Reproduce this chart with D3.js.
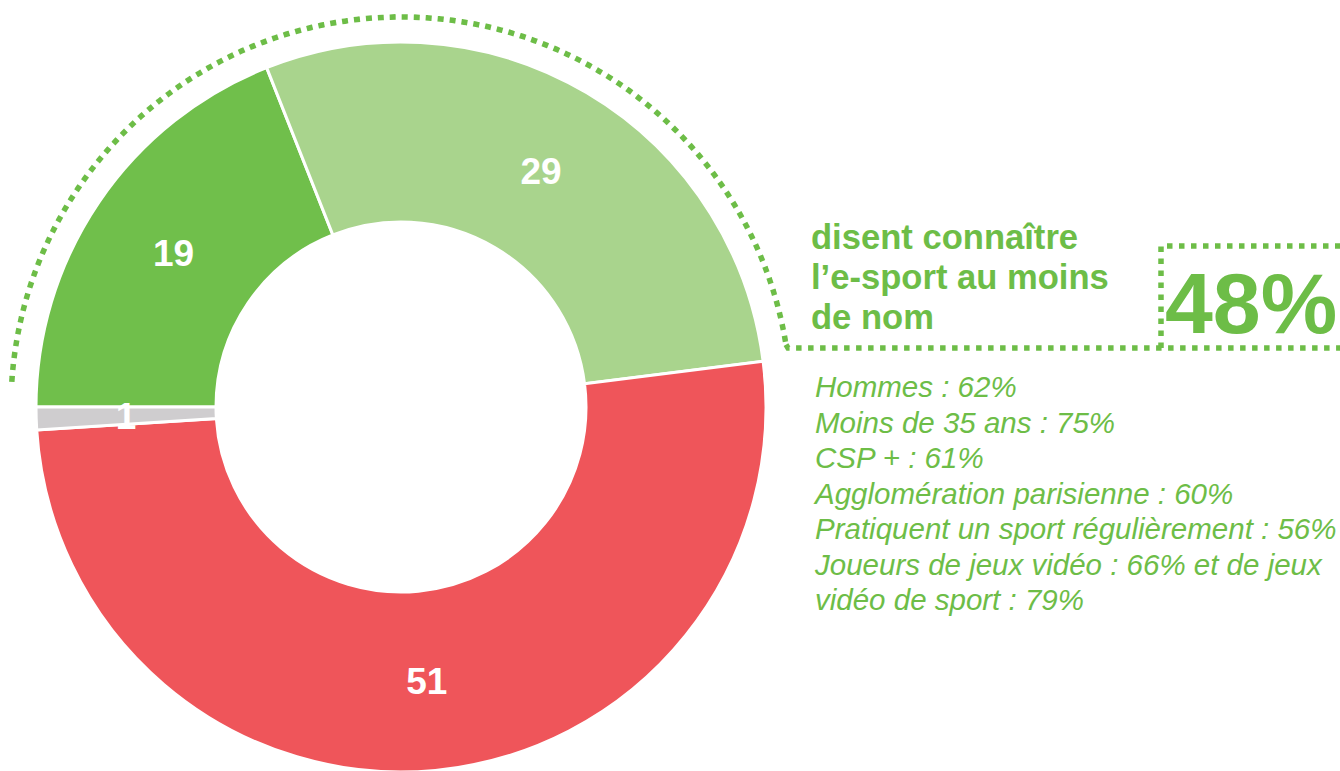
<!DOCTYPE html>
<html>
<head>
<meta charset="utf-8">
<script src="https://cdn.jsdelivr.net/npm/d3@7"></script>
<style>
  body { margin: 0; background: #fff; overflow: hidden; }
  svg text { font-family: Arial, "Liberation Sans", Helvetica, sans-serif; }
</style>
</head>
<body>
<svg id="chart" width="1340" height="771"></svg>
<script>
// donut slices, clockwise from 9 o'clock
var categories = ["Oui, et je sais de quoi il s'agit", "Oui, seulement de nom", "Non", "NSP"];
var values = [19, 29, 51, 1];
var colors = ["#70bf4b", "#a9d48d", "#ef555a", "#cfcdcf"];

var headline = ["disent connaître", "l\u2019e-sport au moins", "de nom"];
var bigValue = "48%";
var details = [
  "Hommes : 62%",
  "Moins de 35 ans : 75%",
  "CSP + : 61%",
  "Agglomération parisienne : 60%",
  "Pratiquent un sport régulièrement : 56%",
  "Joueurs de jeux vidéo : 66% et de jeux",
  "vidéo de sport : 79%"
];

var green = "#6dbd47";
var cx = 401, cy = 407;
var outerR = 365, innerR = 185;

var svg = d3.select("#chart");
var g = svg.append("g").attr("transform", "translate(" + cx + "," + cy + ")");

var pie = d3.pie().sort(null).value(function(d) { return d; })
    .startAngle(-Math.PI / 2).endAngle(3 * Math.PI / 2);
var arc = d3.arc().innerRadius(innerR).outerRadius(outerR);
var arcs = pie(values);

g.selectAll("path.slice")
    .data(arcs)
    .enter()
    .append("path")
        .attr("class", "slice")
        .attr("d", arc)
        .attr("fill", function(d, i) { return colors[i]; })
        .attr("stroke", "#fff")
        .attr("stroke-width", 3);

g.selectAll("text.lbl")
    .data(arcs)
    .enter()
    .append("text")
        .attr("class", "lbl")
        .attr("x", function(d) { return arc.centroid(d)[0]; })
        .attr("y", function(d) { return arc.centroid(d)[1]; })
        .attr("dy", "0.36em")
        .attr("text-anchor", "middle")
        .attr("fill", "#fff")
        .attr("font-weight", "bold")
        .attr("font-size", 37)
        .text(function(d) { return d.data; });

// dotted arc over the two "yes" slices
var bracketR = 390;
var a0 = -86.3 * Math.PI / 180, a1 = 80.8 * Math.PI / 180;
function dotted(sel) {
    sel.attr("stroke", green)
        .attr("stroke-width", 5.5)
        .attr("fill", "none")
        .attr("stroke-dasharray", "5.5,6.5");
}

g.append("path")
    .attr("d", d3.arc().innerRadius(bracketR).outerRadius(bracketR)({ startAngle: a0, endAngle: a1 }))
    .call(dotted);

var endX = cx + bracketR * Math.sin(a1), endY = cy - bracketR * Math.cos(a1);
var lineY = 348;
svg.append("path")
    .attr("d", "M" + endX + "," + endY + " L" + (endX + 2) + "," + lineY + " L1340," + lineY)
    .call(dotted);

// box around 48%
svg.append("path")
    .attr("d", "M1161," + lineY + " L1161,246 L1340,246")
    .call(dotted);

svg.append("text")
    .attr("x", 1165)
    .attr("y", 333)
    .attr("fill", green)
    .attr("font-weight", "bold")
    .attr("font-size", 86)
    .text(bigValue);

svg.selectAll("text.head")
    .data(headline)
    .enter()
    .append("text")
        .attr("class", "head")
        .attr("x", 811)
        .attr("y", function(d, i) { return 249 + i * 40; })
        .attr("fill", green)
        .attr("font-weight", "bold")
        .attr("font-size", 34.6)
        .text(function(d) { return d; });

svg.selectAll("text.detail")
    .data(details)
    .enter()
    .append("text")
        .attr("class", "detail")
        .attr("x", 815)
        .attr("y", function(d, i) { return 397 + i * 35.5; })
        .attr("fill", green)
        .attr("font-style", "italic")
        .attr("font-size", 29.5)
        .text(function(d) { return d; });
</script>
</body>
</html>
